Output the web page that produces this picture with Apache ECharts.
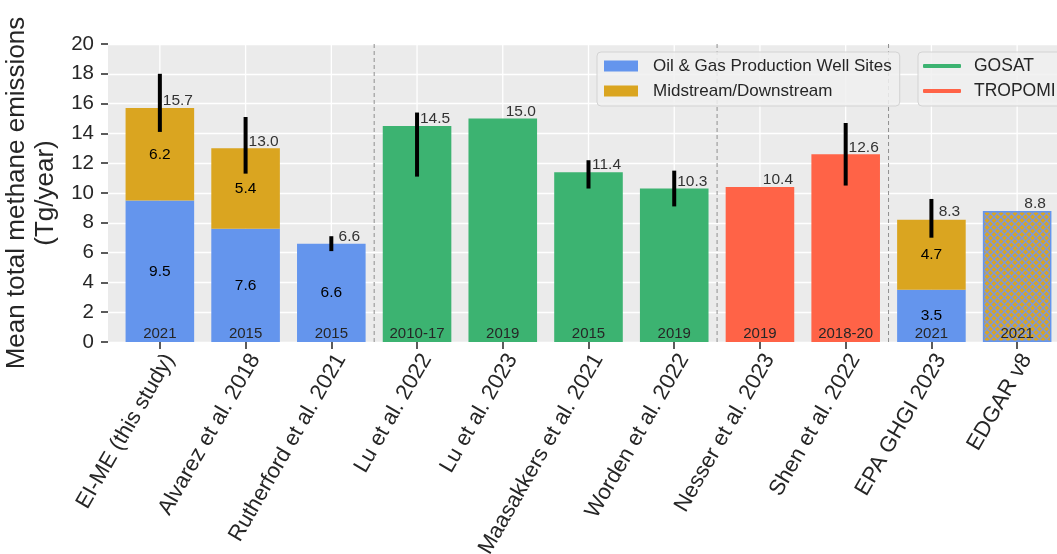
<!DOCTYPE html>
<html>
<head>
<meta charset="utf-8">
<title>Mean total methane emissions</title>
<script src="https://cdn.jsdelivr.net/npm/echarts@6/dist/echarts.min.js"></script>
<style>
  html, body { margin: 0; padding: 0; background: #ffffff; }
  #chart { width: 1057px; height: 554px; }
</style>
</head>
<body>
<div id="chart"></div>
<script>
// Emission estimates per study (Tg/year)
const categories = ['EI-ME (this study)', 'Alvarez et al. 2018', 'Rutherford et al. 2021',
  'Lu et al. 2022', 'Lu et al. 2023', 'Maasakkers et al. 2021', 'Worden et al. 2022',
  'Nesser et al. 2023', 'Shen et al. 2022', 'EPA GHGI 2023', 'EDGAR v8'];
const wellSites = [9.5, 7.6, 6.6, null, null, null, null, null, null, 3.5, null];
const midstream = [6.2, 5.4, null, null, null, null, null, null, null, 4.7, null];
const gosat     = [null, null, null, 14.5, 15.0, 11.4, 10.3, null, null, null, null];
const tropomi   = [null, null, null, null, null, null, null, 10.4, 12.6, null, null];
const edgar     = [null, null, null, null, null, null, null, null, null, null, 8.8];
const totals    = [15.7, 13.0, 6.6, 14.5, 15.0, 11.4, 10.3, 10.4, 12.6, 8.3, 8.8];
const errLow    = [14.1, 11.3, 6.1, 11.1, null, 10.3, 9.1, null, 10.5, 7.0, null];
const errHigh   = [18.0, 15.1, 7.1, 15.4, null, 12.2, 11.5, null, 14.7, 9.6, null];
const years     = ['2021', '2015', '2015', '2010-17', '2019', '2015', '2019', '2019', '2018-20', '2021', '2021'];
const groupBreaks = [2, 6, 8];   // dashed separators after these categories

const FONT = 'Liberation Sans, Arial, Helvetica, sans-serif';
const BLUE = '#6495ED', GOLD = '#DAA520', GREEN = '#3CB371', RED = '#FF6347';

// Cross-hatch tile for the EDGAR bar
function hatchPattern() {
  const s = 7;
  const c = document.createElement('canvas');
  c.width = s; c.height = s;
  const g = c.getContext('2d');
  g.fillStyle = GOLD; g.fillRect(0, 0, s, s);
  g.strokeStyle = '#7f98d6'; g.lineWidth = 1.5;
  g.beginPath();
  g.moveTo(0, 0); g.lineTo(s, s);
  g.moveTo(s, 0); g.lineTo(0, s);
  g.stroke();
  return c;
}

const chart = echarts.init(document.getElementById('chart'), null, { renderer: 'canvas' });

const idx = categories.map((_, i) => i);
const segLabel = {
  show: true, position: 'inside', color: '#000', fontSize: 15.5, fontFamily: FONT,
  formatter: p => p.value == null ? '' : p.value.toFixed(1)
};

chart.setOption({
  animation: false,
  backgroundColor: '#ffffff',
  grid: [
    { left: 108, right: -3, top: 44, bottom: 212, outerBoundsMode: 'none', containLabel: false,
      show: true, backgroundColor: '#EBEBEB', borderWidth: 0 },
    { left: 117, right: -3, top: 44, bottom: 212, outerBoundsMode: 'none', containLabel: false }
  ],
  xAxis: [
    { type: 'value', gridIndex: 0, min: 0, max: 1, show: false },
    {
      type: 'category', gridIndex: 1, data: categories,
      axisLine: { show: false },
      axisTick: { show: true, alignWithLabel: true, length: 7, lineStyle: { color: '#262626', width: 1.5 } },
      axisLabel: { rotate: 60, margin: 8, verticalAlign: 'top', fontSize: 22, color: '#262626',
        fontFamily: FONT, interval: 0 },
      splitLine: { show: false }
    }
  ],
  yAxis: [
    {
      type: 'value', gridIndex: 0, min: 0, max: 20, interval: 2,
      name: 'Mean total methane emissions\n(Tg/year)',
      nameLocation: 'middle', nameGap: 46, nameRotate: 90,
      nameTextStyle: { fontSize: 26, color: '#262626', fontFamily: FONT, lineHeight: 29, align: 'center' },
      axisLine: { show: false },
      axisTick: { show: true, length: 7, lineStyle: { color: '#262626', width: 1.5 } },
      axisLabel: { margin: 14, fontSize: 20.5, color: '#262626', fontFamily: FONT },
      splitLine: { show: true, lineStyle: { color: '#ffffff', width: 1.3 } }
    },
    { type: 'value', gridIndex: 1, min: 0, max: 20, interval: 2, show: false }
  ],
  legend: [
    {
      data: ['Oil & Gas Production Well Sites', 'Midstream/Downstream'],
      orient: 'vertical', left: 597, top: 52,
      icon: 'rect', itemWidth: 34, itemHeight: 11, itemGap: 5,
      padding: [4, 8, 5, 7],
      backgroundColor: 'rgba(240,240,240,0.85)', borderColor: '#d3d3d3', borderWidth: 1, borderRadius: 4,
      textStyle: { fontSize: 17, color: '#262626', fontFamily: FONT, lineHeight: 20, padding: [0, 0, 0, 10] },
      selectedMode: false
    },
    {
      data: ['GOSAT', 'TROPOMI'],
      orient: 'vertical', left: 918, top: 52,
      icon: 'roundRect', itemWidth: 38, itemHeight: 4, itemGap: 5,
      padding: [4, 40, 5, 5],
      backgroundColor: 'rgba(240,240,240,0.85)', borderColor: '#d3d3d3', borderWidth: 1, borderRadius: 4,
      textStyle: { fontSize: 17.5, color: '#262626', fontFamily: FONT, lineHeight: 20, padding: [0, 0, 0, 8] },
      selectedMode: false
    }
  ],
  series: [
    // vertical white grid lines at category ticks
    {
      type: 'custom', xAxisIndex: 1, yAxisIndex: 1, z: 1, silent: true,
      data: idx,
      renderItem: (params, api) => {
        const x = api.coord([params.dataIndex, 0])[0];
        const cs = params.coordSys;
        return { type: 'line', shape: { x1: x, y1: cs.y, x2: x, y2: cs.y + cs.height },
          style: { stroke: '#ffffff', lineWidth: 1.3 } };
      }
    },
    // dashed separators between groups of studies
    {
      type: 'custom', xAxisIndex: 1, yAxisIndex: 1, z: 1, silent: true,
      data: groupBreaks,
      renderItem: (params, api) => {
        const i = groupBreaks[params.dataIndex];
        const x = (api.coord([i, 0])[0] + api.coord([i + 1, 0])[0]) / 2;
        const cs = params.coordSys;
        return { type: 'line', shape: { x1: x, y1: cs.y, x2: x, y2: cs.y + cs.height },
          style: { stroke: '#8f8f8f', lineWidth: 1, lineDash: [4, 3] } };
      }
    },
    { name: 'Oil & Gas Production Well Sites', type: 'bar', stack: 'all', xAxisIndex: 1, yAxisIndex: 1,
      barWidth: '80%', data: wellSites, itemStyle: { color: BLUE }, label: segLabel },
    { name: 'Midstream/Downstream', type: 'bar', stack: 'all', xAxisIndex: 1, yAxisIndex: 1,
      barWidth: '80%', data: midstream, itemStyle: { color: GOLD }, label: segLabel },
    { name: 'GOSAT', type: 'bar', stack: 'all', xAxisIndex: 1, yAxisIndex: 1,
      barWidth: '80%', data: gosat, itemStyle: { color: GREEN } },
    { name: 'TROPOMI', type: 'bar', stack: 'all', xAxisIndex: 1, yAxisIndex: 1,
      barWidth: '80%', data: tropomi, itemStyle: { color: RED } },
    { name: 'EDGAR', type: 'bar', stack: 'all', xAxisIndex: 1, yAxisIndex: 1,
      barWidth: '80%', data: edgar,
      itemStyle: { color: { image: hatchPattern(), repeat: 'repeat' }, borderColor: BLUE, borderWidth: 1.5 } },
    // uncertainty ranges
    {
      type: 'custom', xAxisIndex: 1, yAxisIndex: 1, z: 5, silent: true,
      data: idx.filter(i => errLow[i] != null).map(i => [i, errLow[i], errHigh[i]]),
      renderItem: (params, api) => {
        const lo = api.coord([api.value(0), api.value(1)]);
        const hi = api.coord([api.value(0), api.value(2)]);
        return { type: 'line', shape: { x1: lo[0], y1: lo[1], x2: hi[0], y2: hi[1] },
          style: { stroke: '#000000', lineWidth: 4 } };
      }
    },
    // total value labels
    {
      type: 'custom', xAxisIndex: 1, yAxisIndex: 1, z: 6, silent: true,
      data: idx.map(i => [i, totals[i]]),
      renderItem: (params, api) => {
        const p = api.coord([api.value(0), api.value(1)]);
        const band = api.size([1, 0])[0];
        return { type: 'text', x: p[0] + 0.21 * band, y: p[1] + 1,
          style: { text: api.value(1).toFixed(1), fill: '#333333', fontSize: 15.5, fontFamily: FONT,
            align: 'center', verticalAlign: 'bottom' } };
      }
    },
    // year of each estimate
    {
      type: 'custom', xAxisIndex: 1, yAxisIndex: 1, z: 6, silent: true,
      data: idx,
      renderItem: (params, api) => {
        const p = api.coord([params.dataIndex, 0]);
        return { type: 'text', x: p[0], y: p[1] - 1,
          style: { text: years[params.dataIndex], fill: '#262626', fontSize: 15, fontFamily: FONT,
            align: 'center', verticalAlign: 'bottom' } };
      }
    }
  ]
});
</script>
</body>
</html>
